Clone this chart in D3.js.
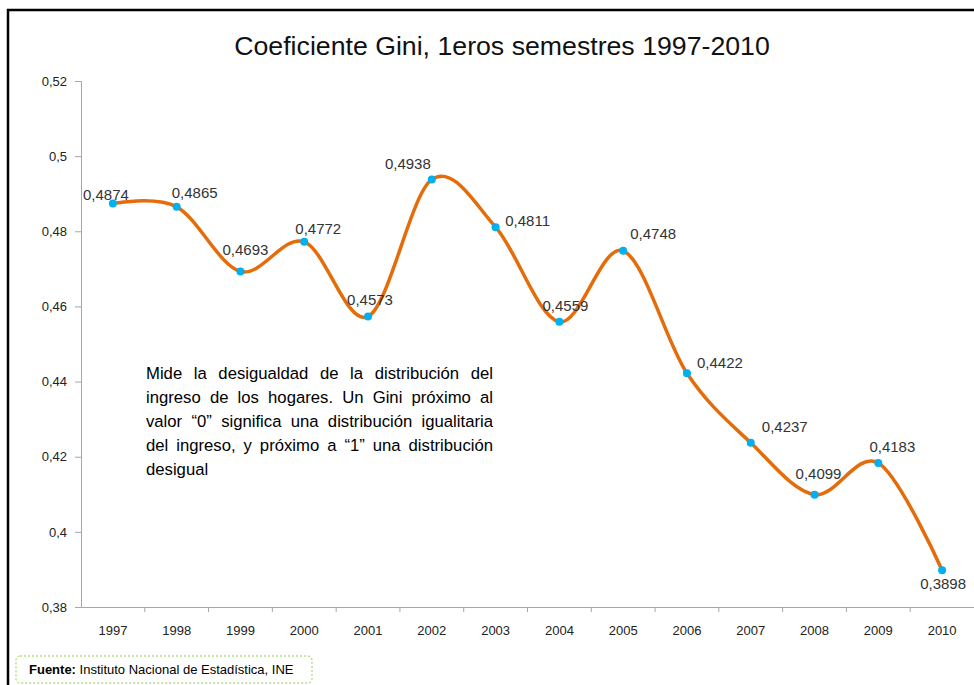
<!DOCTYPE html>
<html>
<head>
<meta charset="utf-8">
<script src="https://cdn.jsdelivr.net/npm/d3@7"></script>
<style>
  body { margin: 0; background: #fff; }
  svg { display: block; font-family: "Liberation Sans", Arial, sans-serif; }
</style>
</head>
<body>
<div id="chart"></div>
<script>
// data
var years = ["1997","1998","1999","2000","2001","2002","2003","2004","2005","2006","2007","2008","2009","2010"];
var gini = [0.4874, 0.4865, 0.4693, 0.4772, 0.4573, 0.4938, 0.4811, 0.4559, 0.4748, 0.4422, 0.4237, 0.4099, 0.4183, 0.3898];
var yTicks = [0.38, 0.40, 0.42, 0.44, 0.46, 0.48, 0.50, 0.52];

// where each value label sits relative to its point (layout only)
var labelDx = [-7, 18, 5, 14, 2, -24, 32, 6, 30, 33, 34, 4, 14, 1];
var labelDy = [-9, -14, -22, -13, -17, -16, -6, -16, -17, -11, -16, -21, -16, 14];

var noteLines = [
    "Mide la desigualdad de la distribución del",
    "ingreso de los hogares. Un Gini próximo al",
    "valor \u201C0\u201D significa una distribución igualitaria",
    "del ingreso, y próximo a \u201C1\u201D una distribución",
    "desigual"
];

var W = 974, H = 685;
var margin = {top: 81, right: 0, bottom: 78, left: 81};

var svg = d3.select("#chart").append("svg")
    .attr("width", W)
    .attr("height", H);

// frame
svg.append("rect")
    .attr("x", 8).attr("y", 10)
    .attr("width", W + 10).attr("height", H + 10)
    .attr("fill", "none")
    .attr("stroke", "#000")
    .attr("stroke-width", 2.5);

svg.append("text")
    .attr("x", 502).attr("y", 55)
    .attr("text-anchor", "middle")
    .style("font-size", "26.7px")
    .attr("fill", "#111")
    .text("Coeficiente Gini, 1eros semestres 1997-2010");

var x = d3.scaleBand()
    .domain(years)
    .range([margin.left, W - margin.right]);

var y = d3.scaleLinear()
    .domain([0.38, 0.52])
    .range([H - margin.bottom, margin.top]);

var fmt = function(v) { return d3.format(".4~f")(v).replace(".", ","); };
var fmtAxis = function(v) { return d3.format("~g")(+v.toFixed(2)).replace(".", ","); };

// y axis
var yAxis = svg.append("g")
    .attr("transform", "translate(" + margin.left + ",0)")
    .call(d3.axisLeft(y).tickValues(yTicks).tickFormat(fmtAxis).tickSize(6).tickPadding(8));
yAxis.select(".domain").attr("stroke", "#a6a6a6");
yAxis.selectAll(".tick line").attr("stroke", "#a6a6a6");
yAxis.selectAll("text").style("font-size", "13px").attr("fill", "#222")
    .style("font-family", "'Liberation Sans', Arial, sans-serif");

// x axis, ticks between the categories
var xAxis = svg.append("g")
    .attr("transform", "translate(0," + (H - margin.bottom) + ")")
    .call(d3.axisBottom(x).tickSize(0).tickPadding(19));
xAxis.select(".domain").attr("stroke", "#a6a6a6");
xAxis.selectAll("text").style("font-size", "13px").attr("fill", "#222")
    .style("font-family", "'Liberation Sans', Arial, sans-serif");
xAxis.selectAll(".sep")
    .data(years.slice(1))
    .enter().append("line")
    .attr("class", "sep")
    .attr("x1", function(d) { return x(d); })
    .attr("x2", function(d) { return x(d); })
    .attr("y1", 0).attr("y2", 5)
    .attr("stroke", "#a6a6a6");

var pts = years.map(function(d, i) { return {year: d, val: gini[i], i: i}; });
var cx = function(d) { return x(d.year) + x.bandwidth() / 2; };

var line = d3.line()
    .x(cx)
    .y(function(d) { return y(d.val); })
    .curve(d3.curveCardinal.tension(0));

svg.append("path")
    .datum(pts)
    .attr("d", line)
    .attr("fill", "none")
    .attr("stroke", "#E46C0A")
    .attr("stroke-width", 3.5);

svg.selectAll(".dot")
    .data(pts)
    .enter().append("circle")
    .attr("class", "dot")
    .attr("cx", cx)
    .attr("cy", function(d) { return y(d.val); })
    .attr("r", 4)
    .attr("fill", "#00B0F0");

svg.selectAll(".lbl")
    .data(pts)
    .enter().append("text")
    .attr("class", "lbl")
    .attr("x", function(d) { return cx(d) + labelDx[d.i]; })
    .attr("y", function(d) { return y(d.val) + labelDy[d.i]; })
    .attr("dy", "0.35em")
    .attr("text-anchor", "middle")
    .style("font-size", "15px")
    .attr("fill", "#333")
    .text(function(d) { return fmt(d.val); });

// note, justified like the original text box
var noteX = 146, noteY = 379, noteW = 347, noteLH = 24;
var note = svg.append("g");
noteLines.forEach(function(t, i) {
    var tx = note.append("text")
        .attr("x", noteX)
        .attr("y", noteY + i * noteLH)
        .style("font-size", "16.7px")
        .attr("fill", "#000")
        .text(t);
    if (i < noteLines.length - 1) {
        var w = tx.node().getComputedTextLength();
        var gaps = t.split(" ").length - 1;
        if (gaps > 0) tx.style("word-spacing", ((noteW - w) / gaps) + "px");
    }
});

// source box
svg.append("rect")
    .attr("x", 16).attr("y", 656)
    .attr("width", 296).attr("height", 27)
    .attr("rx", 4)
    .attr("fill", "#fff")
    .attr("stroke", "#92D050")
    .attr("stroke-dasharray", "2,2");

var src = svg.append("text")
    .attr("x", 29).attr("y", 674)
    .style("font-size", "13px")
    .attr("fill", "#000");
src.append("tspan").style("font-weight", "bold").text("Fuente:");
src.append("tspan").text(" Instituto Nacional de Estadística, INE");
</script>
</body>
</html>
